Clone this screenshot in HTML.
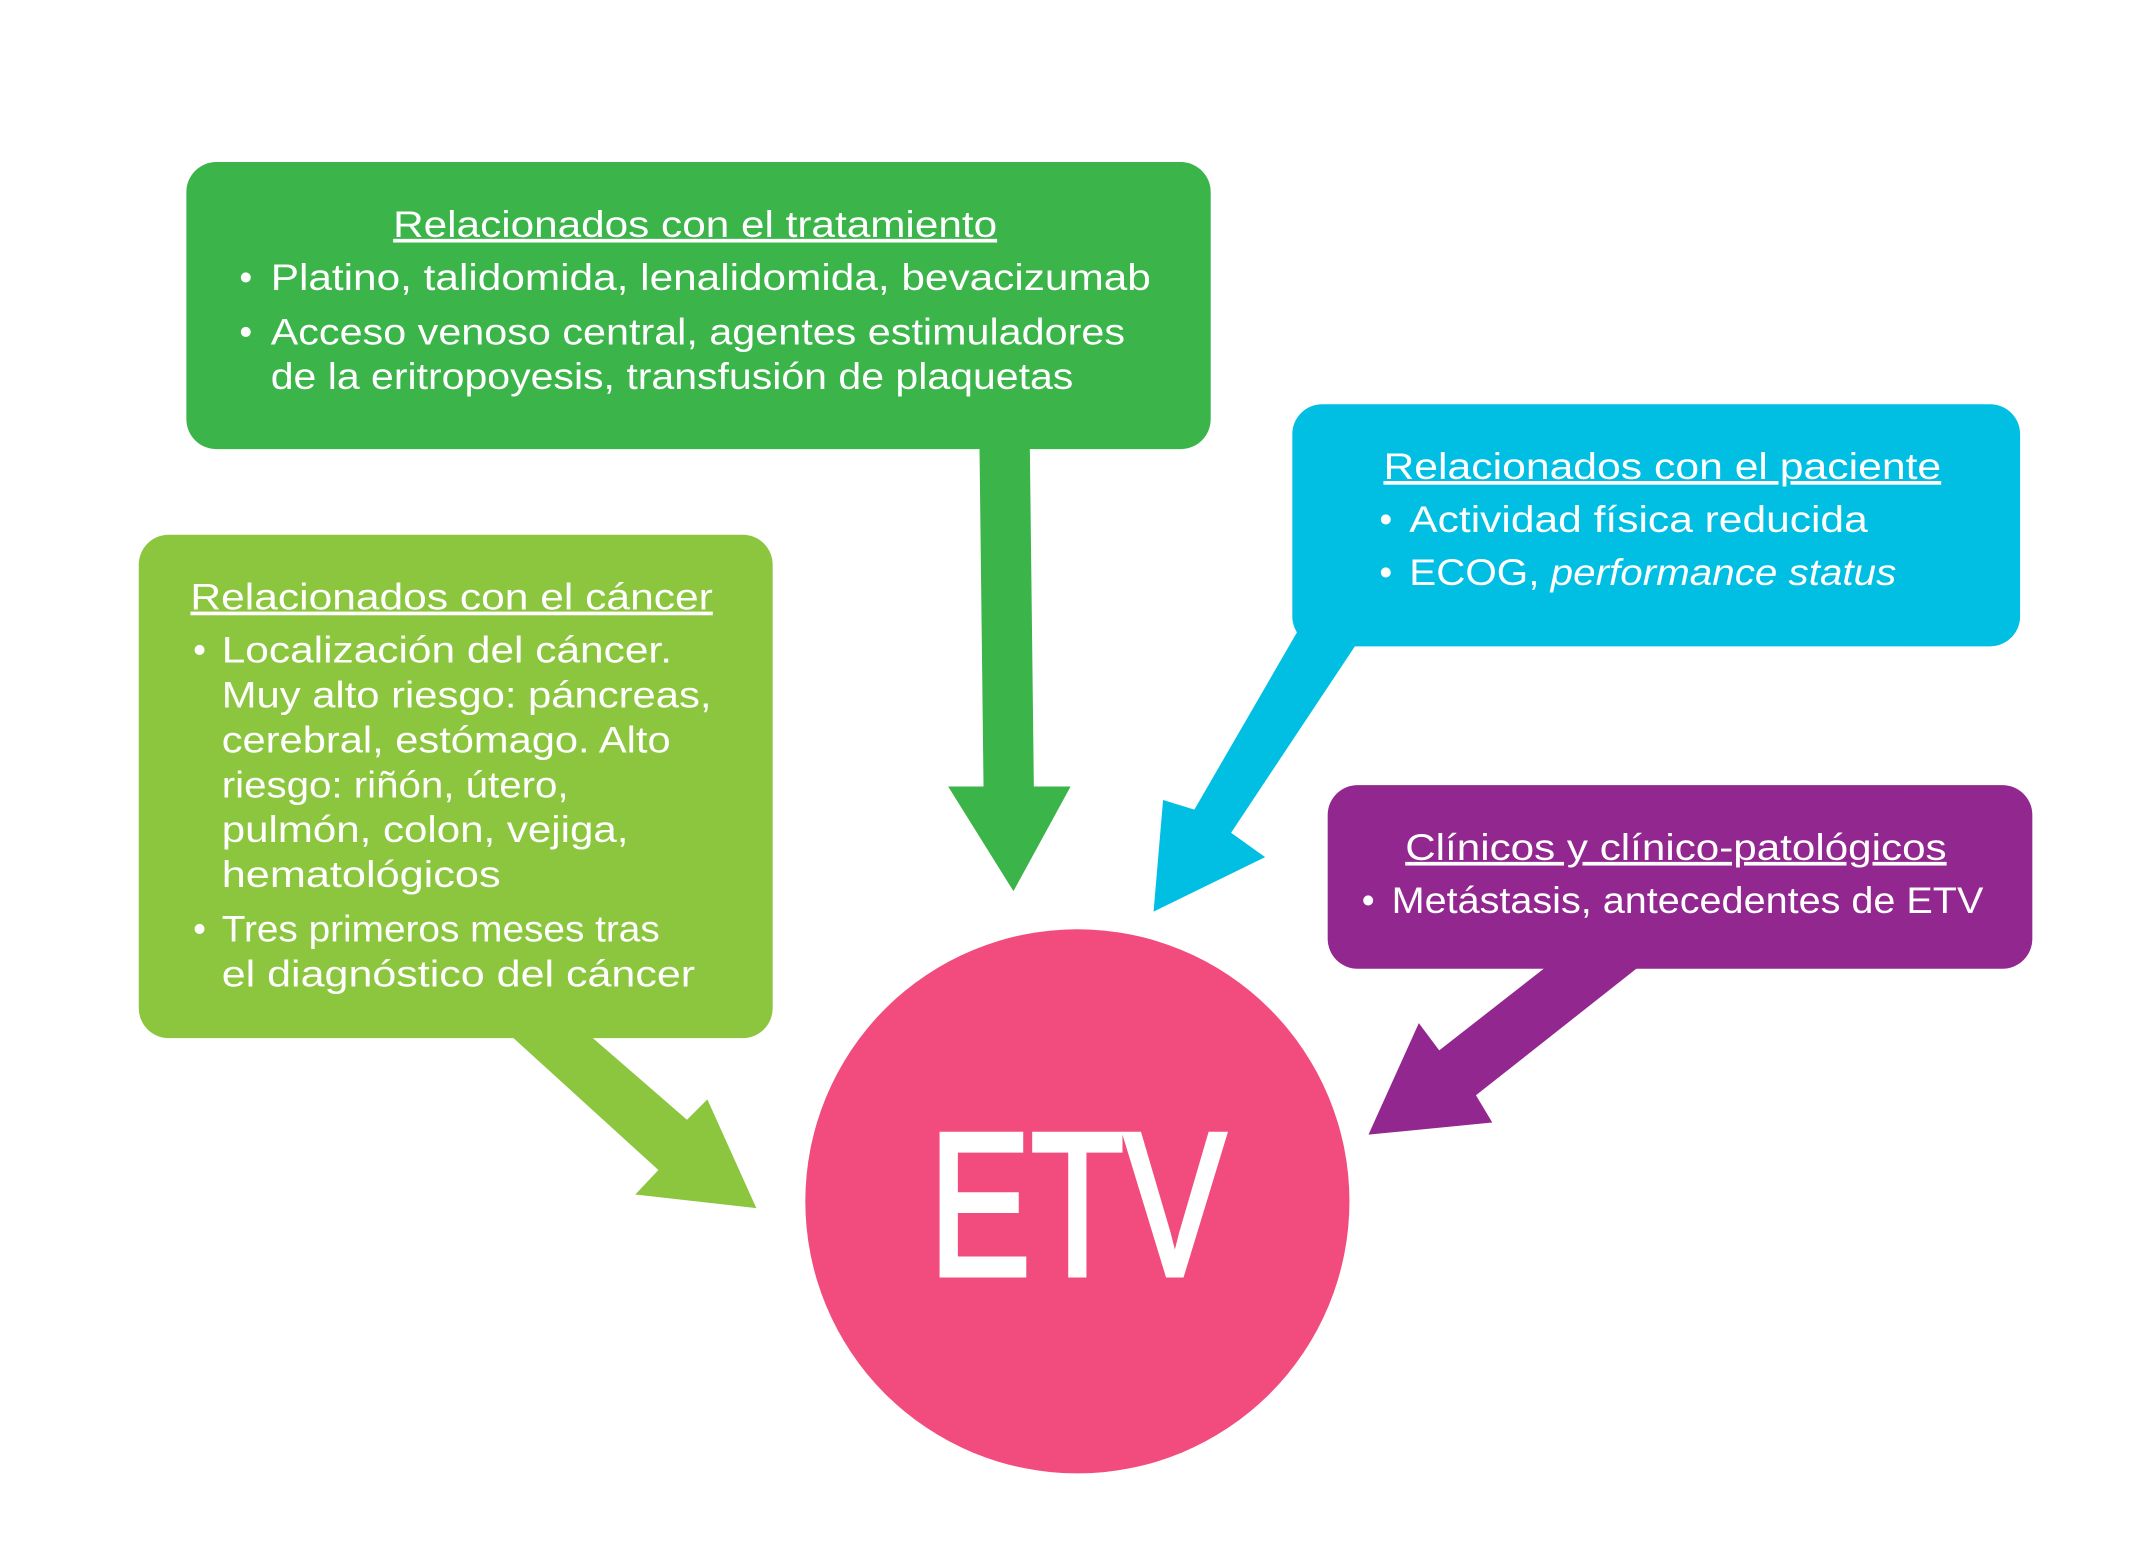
<!DOCTYPE html>
<html><head><meta charset="utf-8"><style>
html,body{margin:0;padding:0;background:#fff;}
svg{display:block;}
text{font-family:"Liberation Sans",sans-serif;fill:#fff;font-size:27px;}
</style></head><body>
<svg width="2133" height="1562" viewBox="0 0 1568 1148" xmlns="http://www.w3.org/2000/svg">
<rect width="1568" height="1148" fill="#fff"/>
<!-- green arrow -->
<polygon points="720,325 757,325 760,578 787,578 745,655 697,578 723,578" fill="#3bb44a"/>
<!-- cyan arrow -->
<polygon points="955,462 998,472 905,612 930,630 848,670 855,588 878,595" fill="#00bfe3"/>
<!-- lime arrow -->
<polygon points="372,758 430,758 505,823 520,808 556,888 467,878 484,860" fill="#8cc63f"/>
<!-- purple arrow -->
<polygon points="1140,708 1208,708 1085,805 1097,825 1006,834 1043,752 1058,772" fill="#92278f"/>
<!-- boxes -->
<rect x="137" y="119" width="753" height="211" rx="22" fill="#3bb44a"/>
<rect x="950" y="297" width="535" height="178" rx="22" fill="#00bfe3"/>
<rect x="102" y="393" width="466" height="370" rx="22" fill="#8cc63f"/>
<rect x="976" y="577" width="518" height="135" rx="22" fill="#92278f"/>
<circle cx="792" cy="883" r="200" fill="#f24b7e"/>
<text x="792" y="937" text-anchor="middle" style="font-size:150px" stroke="#fff" stroke-width="4" textLength="218" lengthAdjust="spacingAndGlyphs">ETV</text>

<!-- green text -->
<text x="511" y="174" text-anchor="middle" text-decoration="underline" textLength="444" lengthAdjust="spacingAndGlyphs">Relacionados con el tratamiento</text>
<text x="176" y="213">•</text>
<text x="199" y="213" textLength="647" lengthAdjust="spacingAndGlyphs">Platino, talidomida, lenalidomida, bevacizumab</text>
<text x="176" y="253">•</text>
<text x="199" y="253" textLength="628" lengthAdjust="spacingAndGlyphs">Acceso venoso central, agentes estimuladores</text>
<text x="199" y="286" textLength="590" lengthAdjust="spacingAndGlyphs">de la eritropoyesis, transfusión de plaquetas</text>

<!-- cyan text -->
<text x="1222" y="352" text-anchor="middle" text-decoration="underline" textLength="410" lengthAdjust="spacingAndGlyphs">Relacionados con el paciente</text>
<text x="1014" y="391">•</text>
<text x="1036" y="391" textLength="337" lengthAdjust="spacingAndGlyphs">Actividad física reducida</text>
<text x="1014" y="430">•</text>
<text x="1036" y="430" textLength="358" lengthAdjust="spacingAndGlyphs">ECOG, <tspan font-style="italic">performance status</tspan></text>

<!-- lime text -->
<text x="332" y="448" text-anchor="middle" text-decoration="underline" textLength="384" lengthAdjust="spacingAndGlyphs">Relacionados con el cáncer</text>
<text x="142" y="487">•</text>
<text x="163" y="487" textLength="331" lengthAdjust="spacingAndGlyphs">Localización del cáncer.</text>
<text x="163" y="520" textLength="360" lengthAdjust="spacingAndGlyphs">Muy alto riesgo: páncreas,</text>
<text x="163" y="553" textLength="330" lengthAdjust="spacingAndGlyphs">cerebral, estómago. Alto</text>
<text x="163" y="586" textLength="255" lengthAdjust="spacingAndGlyphs">riesgo: riñón, útero,</text>
<text x="163" y="619" textLength="299" lengthAdjust="spacingAndGlyphs">pulmón, colon, vejiga,</text>
<text x="163" y="652" textLength="205" lengthAdjust="spacingAndGlyphs">hematológicos</text>
<text x="142" y="692">•</text>
<text x="163" y="692" textLength="322" lengthAdjust="spacingAndGlyphs">Tres primeros meses tras</text>
<text x="163" y="725" textLength="348" lengthAdjust="spacingAndGlyphs">el diagnóstico del cáncer</text>

<!-- purple text -->
<text x="1232" y="632" text-anchor="middle" text-decoration="underline" textLength="398" lengthAdjust="spacingAndGlyphs">Clínicos y clínico-patológicos</text>
<text x="1001" y="671">•</text>
<text x="1023" y="671" textLength="435" lengthAdjust="spacingAndGlyphs">Metástasis, antecedentes de ETV</text>
</svg>
</body></html>
